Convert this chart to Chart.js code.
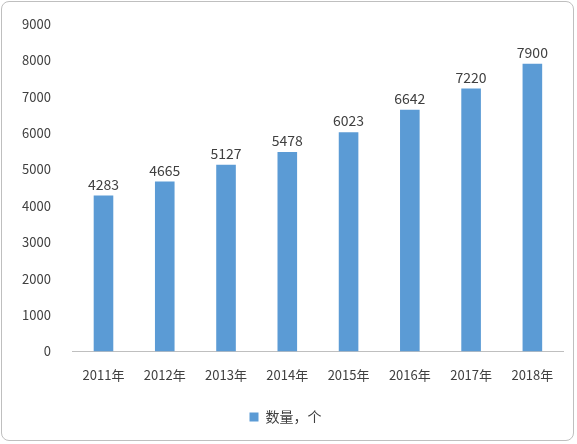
<!DOCTYPE html>
<html>
<head>
<meta charset="utf-8">
<script src="https://cdn.jsdelivr.net/npm/chart.js@4"></script>
<style>
  html, body { margin: 0; padding: 0; background: #fff; }
  #box { position: absolute; left: 1px; top: 1px; width: 573px; height: 440px;
         border: 1px solid #bfbfbf; border-radius: 8px; box-sizing: border-box; }
  #myChart { position: absolute; left: 0; top: 0; }
</style>
</head>
<body>
<div id="box"><canvas id="myChart" width="573" height="440"></canvas></div>
<script>
var years = ['2011年', '2012年', '2013年', '2014年', '2015年', '2016年', '2017年', '2018年'];
var counts = [4283, 4665, 5127, 5478, 6023, 6642, 7220, 7900];
var seriesName = '数量，个';

var font = '"Noto Sans CJK SC", "Noto Sans", sans-serif';

// draw value above each bar
var valueLabels = {
  id: 'valueLabels',
  afterDatasetsDraw: function(chart) {
    var ctx = chart.ctx;
    var meta = chart.getDatasetMeta(0);
    ctx.save();
    ctx.font = '14px ' + font;
    ctx.fillStyle = '#404040';
    ctx.textAlign = 'center';
    ctx.textBaseline = 'bottom';
    meta.data.forEach(function(bar, i) {
      ctx.fillText(counts[i], bar.x, bar.y - 4);
    });
    ctx.restore();
  }
};

new Chart(document.getElementById('myChart'), {
  type: 'bar',
  data: {
    labels: years,
    datasets: [{
      label: seriesName,
      data: counts,
      backgroundColor: '#5B9BD5',
      barPercentage: 0.32,
      categoryPercentage: 1
    }]
  },
  options: {
    responsive: false,
    animation: false,
    layout: { padding: { left: 6, right: 12, top: 8, bottom: 8 } },
    plugins: {
      legend: {
        position: 'bottom',
        labels: { boxWidth: 9, boxHeight: 9, color: '#404040', font: { size: 14, family: font }, padding: 19 }
      },
      tooltip: { enabled: false }
    },
    scales: {
      x: {
        grid: { display: false },
        border: { color: '#bfbfbf' },
        ticks: { color: '#404040', font: { size: 13, family: font }, padding: 8 }
      },
      y: {
        min: 0, max: 9000,
        grid: { display: false },
        border: { display: false },
        ticks: { stepSize: 1000, color: '#404040', font: { size: 13, family: font }, padding: 14,
                 callback: function(v) { return String(v); } }
      }
    }
  },
  plugins: [valueLabels]
});
</script>
</body>
</html>
